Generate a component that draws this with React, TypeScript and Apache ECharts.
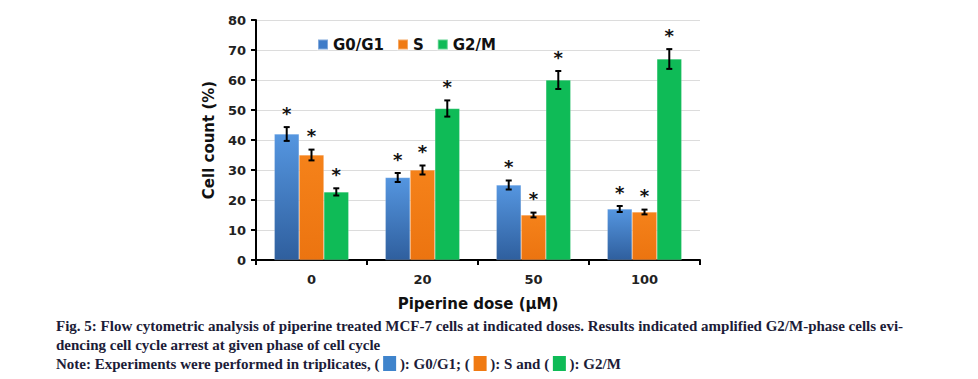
import React, { useEffect, useRef } from "react";
import * as echarts from "echarts";

const categories = ["0", "20", "50", "100"];
const seriesNames = ["G0/G1", "S", "G2/M"];
const g0g1 = [42, 27.5, 25, 17];
const sPhase = [35, 30, 15, 16];
const g2m = [22.7, 50.5, 60, 67];
const g0g1Err = [2.3, 1.5, 1.5, 1];
const sErr = [1.8, 1.5, 0.8, 0.8];
const g2mErr = [1.2, 2.7, 3, 3.3];
const yTicks = [0, 10, 20, 30, 40, 50, 60, 70, 80];

const captionLine1 =
  "Fig. 5: Flow cytometric analysis of piperine treated MCF-7 cells at indicated doses. Results indicated amplified G2/M-phase cells evi-";
const captionLine2 = "dencing cell cycle arrest at given phase of cell cycle";

export default function App() {
  const ref = useRef<HTMLDivElement>(null);
  useEffect(() => {
    if (!ref.current) return;
    const chart = echarts.init(ref.current, null, { renderer: "svg" });
    const values = [g0g1, sPhase, g2m];
    const errs = [g0g1Err, sErr, g2mErr];
    const colors: any[] = [
      new echarts.graphic.LinearGradient(0, 0, 0, 1, [
        { offset: 0, color: "#5596e0" },
        { offset: 1, color: "#2f5f9e" },
      ]),
      new echarts.graphic.LinearGradient(0, 0, 0, 1, [
        { offset: 0, color: "#f5821a" },
        { offset: 1, color: "#ec7410" },
      ]),
      "#0fbb57",
    ];
    const legendColors = ["#3f7cc8", "#f07a12", "#0fbb57"];
    const errData: any[] = [];
    values.forEach((arr, si) =>
      arr.forEach((v, ci) => errData.push([ci, v, errs[si][ci], si]))
    );
    const gap = 0.33;
    const font = "DejaVu Sans";
    const option: any = {
      animation: false,
      backgroundColor: "#fff",
      grid: { left: 256, right: 278, top: 20, bottom: 119 },
      legend: {
        data: seriesNames.map((n, i) => ({
          name: n,
          itemStyle: { color: legendColors[i] },
        })),
        left: 312,
        top: 32,
        itemWidth: 10,
        itemHeight: 10,
        itemGap: 13,
        icon: "rect",
        textStyle: { fontFamily: font, fontWeight: "bold", fontSize: 15, color: "#111" },
      },
      xAxis: {
        type: "category",
        data: categories,
        name: "Piperine dose (μM)",
        nameLocation: "middle",
        nameGap: 36,
        nameTextStyle: { fontFamily: font, fontWeight: "bold", fontSize: 15, color: "#111" },
        axisLine: { lineStyle: { color: "#000", width: 2 } },
        axisTick: { show: true, length: 5, lineStyle: { color: "#000", width: 2 } },
        axisLabel: { fontFamily: font, fontWeight: "bold", fontSize: 13, color: "#222", margin: 13 },
      },
      yAxis: {
        type: "value",
        min: 0,
        max: 80,
        interval: 10,
        name: "Cell count (%)",
        nameLocation: "middle",
        nameGap: 40,
        nameTextStyle: { fontFamily: font, fontWeight: "bold", fontSize: 15, color: "#111" },
        axisLine: { show: true, lineStyle: { color: "#000", width: 2 } },
        axisTick: { show: true, length: 5, lineStyle: { color: "#000", width: 2 } },
        axisLabel: {
          fontFamily: font,
          fontWeight: "bold",
          fontSize: 13,
          color: "#222",
          margin: 10,
          formatter: (v: number) => (yTicks.includes(v) ? String(v) : ""),
        },
        splitLine: { lineStyle: { color: "#dcdcdc", width: 1 } },
      },
      series: [
        ...seriesNames.map((n, i) => ({
          name: n,
          type: "bar",
          data: values[i],
          barGap: "0%",
          barCategoryGap: gap * 100 + "%",
          itemStyle: { color: colors[i], borderColor: "rgba(255,255,255,0.35)", borderWidth: 0.5 },
        })),
        {
          type: "custom",
          data: errData,
          z: 10,
          renderItem: (params: any, api: any) => {
            const ci = api.value(0);
            const v = api.value(1);
            const e = api.value(2);
            const si = api.value(3);
            const band = api.size([1, 0])[0];
            const bw = (band * (1 - gap)) / 3;
            const c = api.coord([ci, v]);
            const x = c[0] + (si - 1) * bw;
            const top = api.coord([ci, v + e])[1];
            const bot = api.coord([ci, v - e])[1];
            const cap = 3;
            const st = { stroke: "#000", lineWidth: 2 };
            return {
              type: "group",
              children: [
                { type: "line", shape: { x1: x, y1: top, x2: x, y2: bot }, style: st },
                { type: "line", shape: { x1: x - cap, y1: top, x2: x + cap, y2: top }, style: st },
                { type: "line", shape: { x1: x - cap, y1: bot, x2: x + cap, y2: bot }, style: st },
                {
                  type: "text",
                  x: x,
                  y: top - 5,
                  style: {
                    text: "*",
                    fill: "#111",
                    font: "bold 18px DejaVu Sans",
                    align: "center",
                    verticalAlign: "bottom",
                  },
                },
              ],
            };
          },
        },
      ],
      graphic: [
        {
          type: "text",
          left: 56,
          top: 318,
          style: {
            text: captionLine1,
            font: "bold 15px 'Liberation Serif'",
            fill: "#1c1c38",
          },
        },
        {
          type: "text",
          left: 56,
          top: 337,
          style: {
            text: captionLine2,
            font: "bold 15px 'Liberation Serif'",
            fill: "#1c1c38",
          },
        },
        {
          type: "text",
          left: 56,
          top: 356,
          style: {
            text: "Note: Experiments were performed in triplicates, ( {b|} ): G0/G1; ( {o|} ): S and ( {g|} ): G2/M",
            font: "bold 15px 'Liberation Serif'",
            fill: "#1c1c38",
            rich: {
              b: { backgroundColor: "#3f84cc", width: 13, height: 15 },
              o: { backgroundColor: "#f07a12", width: 13, height: 15 },
              g: { backgroundColor: "#0fbb57", width: 13, height: 15 },
            },
          },
        },
      ],
    };
    chart.setOption(option);
    return () => chart.dispose();
  }, []);
  return (
    <div
      ref={ref}
      style={{ position: "fixed", left: 0, top: 0, width: 978, height: 379 }}
    />
  );
}
